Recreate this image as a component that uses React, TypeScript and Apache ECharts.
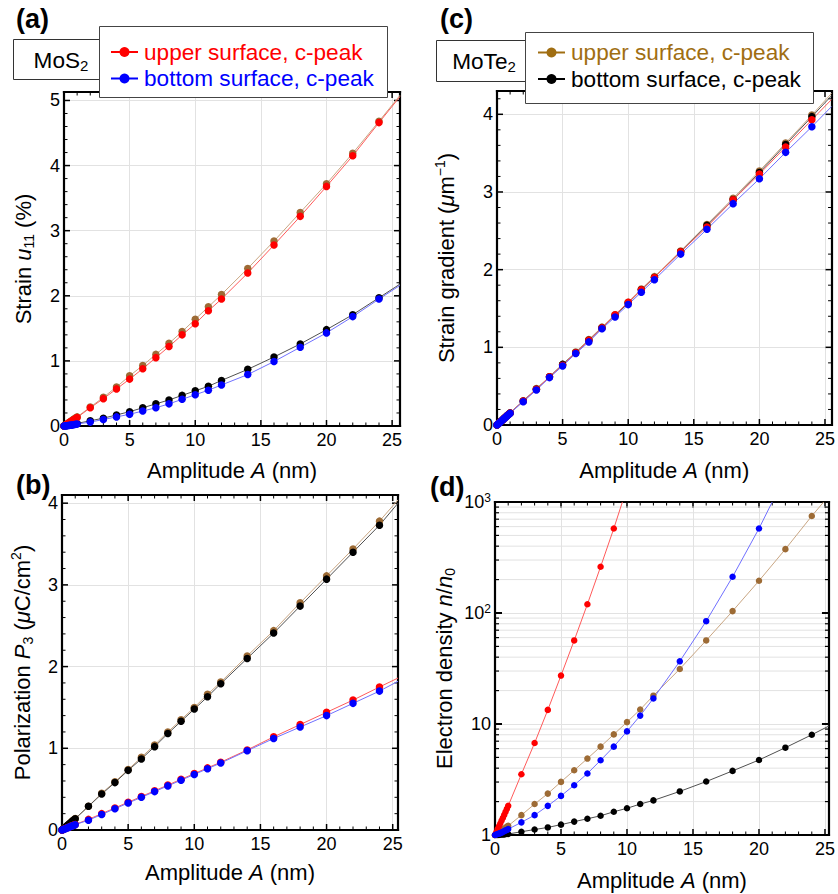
import React, { useEffect, useRef } from "react";
import * as echarts from "echarts";

// ---------- data ----------
const AMPLITUDE = [0, 0.1, 0.2, 0.3, 0.4, 0.5, 0.6, 0.7, 0.8, 0.9, 1, 2, 3, 4, 5, 6, 7, 8, 9, 10, 11, 12, 14, 16, 18, 20, 22, 24];

// (a) Strain u11 (%)   order: MoTe2 upper (brown), MoTe2 bottom (black), MoS2 upper (red), MoS2 bottom (blue)
const A_BROWN = [0, 0.014, 0.028, 0.042, 0.056, 0.07, 0.084, 0.098, 0.112, 0.126, 0.14, 0.29, 0.44, 0.6, 0.77, 0.93, 1.1, 1.27, 1.45, 1.64, 1.83, 2.02, 2.42, 2.84, 3.28, 3.72, 4.19, 4.68];
const A_BLACK = [0, 0.003, 0.006, 0.01, 0.013, 0.017, 0.021, 0.026, 0.031, 0.036, 0.04, 0.08, 0.12, 0.17, 0.22, 0.28, 0.34, 0.4, 0.47, 0.54, 0.61, 0.7, 0.87, 1.06, 1.26, 1.48, 1.71, 1.97];
const A_RED = [0, 0.013, 0.026, 0.039, 0.052, 0.065, 0.078, 0.091, 0.104, 0.117, 0.13, 0.28, 0.42, 0.57, 0.72, 0.88, 1.05, 1.22, 1.4, 1.57, 1.77, 1.95, 2.35, 2.78, 3.22, 3.68, 4.15, 4.66];
const A_BLUE = [0, 0.002, 0.005, 0.007, 0.01, 0.013, 0.016, 0.02, 0.024, 0.027, 0.03, 0.06, 0.1, 0.14, 0.18, 0.23, 0.28, 0.34, 0.41, 0.48, 0.55, 0.63, 0.79, 0.99, 1.21, 1.43, 1.68, 1.95];
const A_END = [[25.6, 5.08], [25.6, 2.18], [25.6, 5.06], [25.6, 2.16]];

// (b) Polarization P3 (uC/cm2)
const B_BROWN = [0, 0.014, 0.028, 0.042, 0.056, 0.07, 0.084, 0.098, 0.112, 0.126, 0.14, 0.29, 0.45, 0.59, 0.74, 0.89, 1.04, 1.2, 1.35, 1.5, 1.66, 1.81, 2.13, 2.44, 2.78, 3.11, 3.44, 3.78];
const B_BLACK = [0, 0.014, 0.027, 0.041, 0.055, 0.068, 0.082, 0.096, 0.109, 0.123, 0.137, 0.29, 0.44, 0.58, 0.73, 0.87, 1.02, 1.18, 1.33, 1.48, 1.63, 1.79, 2.1, 2.41, 2.74, 3.07, 3.4, 3.73];
const B_RED = [0, 0.007, 0.014, 0.021, 0.027, 0.034, 0.041, 0.048, 0.055, 0.062, 0.068, 0.13, 0.2, 0.27, 0.34, 0.41, 0.48, 0.55, 0.62, 0.69, 0.76, 0.83, 0.98, 1.14, 1.29, 1.44, 1.59, 1.75];
const B_BLUE = [0, 0.006, 0.013, 0.019, 0.026, 0.032, 0.039, 0.045, 0.052, 0.058, 0.065, 0.12, 0.19, 0.26, 0.33, 0.4, 0.47, 0.54, 0.61, 0.68, 0.75, 0.82, 0.97, 1.12, 1.26, 1.4, 1.55, 1.7];
const B_END = [[25.4, 4.04], [25.4, 4.0], [25.4, 1.86], [25.4, 1.82]];

// (c) Strain gradient (um^-1)
const C_BROWN = [0, 0.016, 0.031, 0.047, 0.062, 0.078, 0.094, 0.11, 0.125, 0.14, 0.156, 0.31, 0.47, 0.62, 0.78, 0.94, 1.1, 1.26, 1.42, 1.58, 1.75, 1.91, 2.24, 2.58, 2.92, 3.27, 3.63, 3.99];
const C_BLACK = [0, 0.016, 0.031, 0.047, 0.062, 0.078, 0.093, 0.109, 0.124, 0.14, 0.155, 0.31, 0.46, 0.62, 0.78, 0.93, 1.09, 1.25, 1.41, 1.57, 1.74, 1.9, 2.23, 2.57, 2.9, 3.25, 3.61, 3.97];
const C_RED = [0, 0.015, 0.031, 0.046, 0.062, 0.077, 0.093, 0.108, 0.124, 0.139, 0.155, 0.31, 0.46, 0.62, 0.77, 0.93, 1.09, 1.25, 1.42, 1.58, 1.74, 1.9, 2.23, 2.55, 2.9, 3.23, 3.58, 3.93];
const C_BLUE = [0, 0.015, 0.03, 0.045, 0.06, 0.076, 0.091, 0.106, 0.121, 0.136, 0.152, 0.3, 0.45, 0.61, 0.76, 0.92, 1.07, 1.24, 1.39, 1.55, 1.71, 1.87, 2.2, 2.52, 2.85, 3.17, 3.51, 3.84];
const C_END = [[25.5, 4.27], [25.5, 4.24], [25.5, 4.19], [25.5, 4.1]];

// (d) Electron density n/n0 (log)
const D_BROWN = [1, 1.02, 1.04, 1.06, 1.08, 1.1, 1.12, 1.14, 1.16, 1.19, 1.21, 1.51, 1.9, 2.36, 3.01, 3.83, 4.88, 6.25, 8.06, 10.4, 13.5, 18, 31.3, 56.6, 104, 195, 376, 748];
const D_BLACK = [1, 1, 1, 1, 1.01, 1.01, 1.01, 1.01, 1.02, 1.02, 1.02, 1.07, 1.12, 1.17, 1.24, 1.32, 1.4, 1.49, 1.62, 1.74, 1.9, 2.05, 2.47, 3.03, 3.78, 4.74, 6.12, 8.0];
const D_RED = [1, 1.06, 1.13, 1.2, 1.27, 1.35, 1.43, 1.52, 1.62, 1.72, 1.83, 3.53, 6.74, 13.4, 27.3, 56.6, 120, 261, 577, null, null, null, null, null, null, null, null, null];
const D_BLUE = [1, 1.01, 1.02, 1.03, 1.04, 1.05, 1.07, 1.08, 1.1, 1.11, 1.13, 1.3, 1.51, 1.83, 2.25, 2.81, 3.58, 4.71, 6.25, 8.58, 11.9, 17, 36.7, 84.4, 212, 577, null, null];
const D_END = [[24.9, 1000], [25.3, 9.6], [9.65, 1000], [21.0, 1000]];

const LOG_MAJOR = [1, 10, 100, 1000];
const LOG_MINOR = [2, 3, 4, 5, 6, 7, 8, 9, 20, 30, 40, 50, 60, 70, 80, 90, 200, 300, 400, 500, 600, 700, 800, 900];

const LEGEND_MOS2 = ["upper surface, c-peak", "bottom surface, c-peak"];
const LEGEND_MOTE2 = ["upper surface, c-peak", "bottom surface, c-peak"];

// ---------- style ----------
const FONT = "'Liberation Sans', Arial, Helvetica, sans-serif";
const GRID_COLOR = "#e2e2e2";
const ORDER = ["brown", "black", "red", "blue"];
const COLORS: any = { brown: "#9d6b35", black: "#000000", red: "#ff0000", blue: "#0000ff" };
const LINE_COLORS: any = { brown: "#c9a683", black: "#505050", red: "#ff5a5a", blue: "#7070ff" };
const LEGEND_BROWN = "#a06e12";

const PANELS: any[] = [
  { id: "a", grid: { left: 64, top: 92, width: 336, height: 334 }, xMax: 25.6, yMax: 5.13, log: false,
    yName: "Strain {i|u}{sub|11} (%)", yNameGap: 28, xNameGap: 31, series: [A_BROWN, A_BLACK, A_RED, A_BLUE], ends: A_END, size: 7.5 },
  { id: "b", grid: { left: 62, top: 495, width: 336, height: 335 }, xMax: 25.4, yMax: 4.1, log: false,
    yName: "Polarization {i|P}{sub|3} ({i|μ}C/cm{sup|2})", yNameGap: 27, xNameGap: 29, series: [B_BROWN, B_BLACK, B_RED, B_BLUE], ends: B_END, size: 7.5 },
  { id: "c", grid: { left: 497, top: 91, width: 336, height: 334 }, xMax: 25.5, yMax: 4.3, log: false,
    yName: "Strain gradient ({i|μ}m{sup|−1})", yNameGap: 38, xNameGap: 32, series: [C_BROWN, C_BLACK, C_RED, C_BLUE], ends: C_END, size: 7.5 },
  { id: "d", grid: { left: 495, top: 502, width: 337, height: 334 }, xMax: 25.3, yMax: 1000, log: true,
    yName: "Electron density {i|n}/{i|n}{sub|0}", yNameGap: 38, xNameGap: 32, series: [D_BROWN, D_BLACK, D_RED, D_BLUE], ends: D_END, size: 6.5 },
];

function range(from: number, to: number, step: number) {
  const out: number[] = [];
  for (let k = 0; from + k * step <= to + 1e-9; k++) out.push(Math.round((from + k * step) * 1000) / 1000);
  return out;
}

const NAME_RICH = {
  i: { fontSize: 22, fontFamily: FONT, fontStyle: "italic", color: "#000", lineHeight: 26 },
  sub: { fontSize: 14, fontFamily: FONT, color: "#000", lineHeight: 14, verticalAlign: "bottom" },
  sup: { fontSize: 14, fontFamily: FONT, color: "#000", lineHeight: 14, verticalAlign: "top" },
};
const nameStyle = { fontSize: 22, fontFamily: FONT, color: "#000", lineHeight: 26, rich: NAME_RICH };

function buildOption() {
  const grid: any[] = [];
  const xAxis: any[] = [];
  const yAxis: any[] = [];
  const series: any[] = [];

  PANELS.forEach((p, gi) => {
    grid.push({ ...p.grid, containLabel: false });
    const frame = { show: true, onZero: false, lineStyle: { color: "#000", width: 2.2, cap: "square" } };
    const yMin = p.log ? 1 : 0;

    xAxis.push({
      type: "value", gridIndex: gi, min: 0, max: p.xMax, interval: 5, position: "bottom",
      axisLine: frame, axisTick: { show: false }, minorTick: { show: false },
      splitLine: { show: true, lineStyle: { color: GRID_COLOR, width: 1 } },
      axisLabel: { show: true, margin: 5, fontSize: 18, fontFamily: FONT, color: "#000", showMaxLabel: false,
        formatter: (v: number) => (Math.abs(v % 5) < 1e-9 ? String(v) : "") },
      name: "Amplitude {i|A} (nm)", nameLocation: "middle", nameGap: p.xNameGap, nameTextStyle: nameStyle,
    });
    xAxis.push({
      type: "value", gridIndex: gi, min: 0, max: p.xMax, interval: 5, position: "top",
      axisLine: frame, axisTick: { show: false }, axisLabel: { show: false }, splitLine: { show: false },
    });

    if (p.log) {
      yAxis.push({
        type: "log", logBase: 10, gridIndex: gi, min: 1, max: 1000, position: "left",
        axisLine: frame, axisTick: { show: false }, minorTick: { show: false },
        splitLine: { show: true, lineStyle: { color: GRID_COLOR, width: 1 } },
        axisLabel: { show: true, margin: 4, fontSize: 18, fontFamily: FONT, color: "#000", lineHeight: 20,
          formatter: (v: number) => (v <= 1.0001 ? "1" : v < 10.001 ? "10" : "10{sup|" + Math.round(Math.log10(v)) + "}"),
          rich: { sup: { fontSize: 12, fontFamily: FONT, color: "#000", lineHeight: 12, verticalAlign: "top" } } },
        name: p.yName, nameLocation: "middle", nameGap: p.yNameGap, nameTextStyle: nameStyle,
      });
      yAxis.push({
        type: "log", logBase: 10, gridIndex: gi, min: 1, max: 1000, position: "right",
        axisLine: frame, axisTick: { show: false }, axisLabel: { show: false }, splitLine: { show: false },
      });
    } else {
      yAxis.push({
        type: "value", gridIndex: gi, min: 0, max: p.yMax, interval: 1, position: "left",
        axisLine: frame, axisTick: { show: false }, minorTick: { show: false },
        splitLine: { show: true, lineStyle: { color: GRID_COLOR, width: 1 } },
        axisLabel: { show: true, margin: 4, fontSize: 18, fontFamily: FONT, color: "#000", showMaxLabel: false,
          formatter: (v: number) => (Math.abs(v - Math.round(v)) < 1e-9 ? String(Math.round(v)) : "") },
        name: p.yName, nameLocation: "middle", nameGap: p.yNameGap, nameTextStyle: nameStyle,
      });
      yAxis.push({
        type: "value", gridIndex: gi, min: 0, max: p.yMax, interval: 1, position: "right",
        axisLine: frame, axisTick: { show: false }, axisLabel: { show: false }, splitLine: { show: false },
      });
    }

    // tick marks on all four sides (and log minor grid lines)
    const items: any[] = [];
    const xMajor = range(0, p.xMax, 5);
    const xMinor = range(0, p.xMax, 1).filter((v) => v % 5 !== 0);
    xMajor.forEach((v) => items.push([v, yMin, 0, 6, 1.5]));
    xMinor.forEach((v) => items.push([v, yMin, 0, 3.5, 1]));
    if (p.log) {
      LOG_MAJOR.forEach((v) => items.push([0, v, 1, 7, 2]));
      LOG_MINOR.forEach((v) => items.push([0, v, 3, 4, 1.2]));
    } else {
      range(0, p.yMax, 1).forEach((v) => items.push([0, v, 1, 6, 1.5]));
      range(0, p.yMax, 0.2).filter((v) => Math.abs(v - Math.round(v)) > 1e-6).forEach((v) => items.push([0, v, 1, 3.5, 1]));
    }
    const xMaxV = p.xMax;
    const yMaxV = p.yMax;
    series.push({
      type: "custom", xAxisIndex: 2 * gi, yAxisIndex: 2 * gi, z: 1, silent: true, animation: false,
      data: items,
      renderItem: (_params: any, api: any) => {
        const kind = api.value(2);
        const len = api.value(3);
        const w = api.value(4);
        const style = { stroke: "#000", lineWidth: w };
        if (kind === 0) {
          const v = api.value(0);
          const b = api.coord([v, yMin]);
          const t = api.coord([v, yMaxV]);
          return { type: "group", children: [
            { type: "line", shape: { x1: b[0], y1: b[1], x2: b[0], y2: b[1] - len }, style },
            { type: "line", shape: { x1: t[0], y1: t[1], x2: t[0], y2: t[1] + len }, style },
          ] };
        }
        const v = api.value(1);
        const l = api.coord([0, v]);
        const r = api.coord([xMaxV, v]);
        const children: any[] = [];
        if (kind === 3) {
          children.push({ type: "line", shape: { x1: l[0] + 1, y1: l[1], x2: r[0] - 1, y2: r[1] }, style: { stroke: GRID_COLOR, lineWidth: 1 } });
        }
        children.push({ type: "line", shape: { x1: l[0], y1: l[1], x2: l[0] + len, y2: l[1] }, style });
        children.push({ type: "line", shape: { x1: r[0], y1: r[1], x2: r[0] - len, y2: r[1] }, style });
        return { type: "group", children };
      },
    });

    ORDER.forEach((key, si) => {
      const vals = p.series[si];
      const data: any[] = [];
      vals.forEach((v: number | null, i: number) => {
        if (v !== null) data.push([AMPLITUDE[i], v]);
      });
      data.push({ value: p.ends[si], symbol: "none" });
      series.push({
        type: "line", name: p.id + "-" + key, xAxisIndex: 2 * gi, yAxisIndex: 2 * gi, data,
        symbol: "circle", symbolSize: p.size, showSymbol: true, showAllSymbol: true,
        itemStyle: { color: COLORS[key] }, lineStyle: { color: LINE_COLORS[key], width: 1 },
        emphasis: { disabled: true }, clip: true, z: 2, animation: false,
      });
    });
  });

  const txt = (x: number, y: number, text: string, extra: any) => ({
    type: "text", x, y, z: 110,
    style: { text, fontFamily: FONT, fill: "#000", align: "left", verticalAlign: "middle", ...extra },
  });
  const SUB_RICH = { sub: { fontSize: 15, fontFamily: FONT, fill: "#000", lineHeight: 15, verticalAlign: "bottom" } };

  const legendRows = (x0: number, ys: number[], labels: string[], colors: string[]) => {
    const out: any[] = [];
    labels.forEach((label, i) => {
      out.push({ type: "line", z: 108, shape: { x1: x0, y1: ys[i], x2: x0 + 27, y2: ys[i] }, style: { stroke: colors[i], lineWidth: 2 } });
      out.push({ type: "circle", z: 109, shape: { cx: x0 + 13.5, cy: ys[i], r: 5 }, style: { fill: colors[i] } });
      out.push(txt(x0 + 33, ys[i], label, { fontSize: 22.6, fill: colors[i] }));
    });
    return out;
  };

  const graphic: any[] = [
    txt(16, 19, "(a)", { fontSize: 27, fontWeight: "bold" }),
    txt(440, 19, "(c)", { fontSize: 27, fontWeight: "bold" }),
    txt(16, 485, "(b)", { fontSize: 27, fontWeight: "bold" }),
    txt(430, 487, "(d)", { fontSize: 27, fontWeight: "bold" }),
    // MoS2 label + legend
    { type: "rect", z: 104, shape: { x: 13.5, y: 39.5, width: 95, height: 40 }, style: { fill: "#fff", stroke: "#333", lineWidth: 1 } },
    txt(61, 60, "MoS{sub|2}", { fontSize: 22.6, align: "center", lineHeight: 26, rich: SUB_RICH }),
    { type: "rect", z: 106, shape: { x: 99.5, y: 26.5, width: 288, height: 71 }, style: { fill: "#fff", stroke: "#444", lineWidth: 1 } },
    ...legendRows(111, [52, 78.5], LEGEND_MOS2, [COLORS.red, COLORS.blue]),
    // MoTe2 label + legend
    { type: "rect", z: 104, shape: { x: 436.5, y: 40.5, width: 97, height: 41 }, style: { fill: "#fff", stroke: "#333", lineWidth: 1 } },
    txt(484, 61, "MoTe{sub|2}", { fontSize: 22.6, align: "center", lineHeight: 26, rich: SUB_RICH }),
    { type: "rect", z: 106, shape: { x: 525.5, y: 32.5, width: 288, height: 71 }, style: { fill: "#fff", stroke: "#444", lineWidth: 1 } },
    ...legendRows(538, [52.5, 79], LEGEND_MOTE2, [LEGEND_BROWN, COLORS.black]),
  ];

  return { animation: false, backgroundColor: "#fff", grid, xAxis, yAxis, series, graphic };
}

export default function App() {
  const ref = useRef<HTMLDivElement>(null);
  useEffect(() => {
    if (!ref.current) return;
    const chart = echarts.init(ref.current, undefined, { renderer: "svg" });
    chart.setOption(buildOption() as any);
    return () => chart.dispose();
  }, []);
  return <div ref={ref} style={{ position: "absolute", left: 0, top: 0, width: 838, height: 894, background: "#fff" }} />;
}
